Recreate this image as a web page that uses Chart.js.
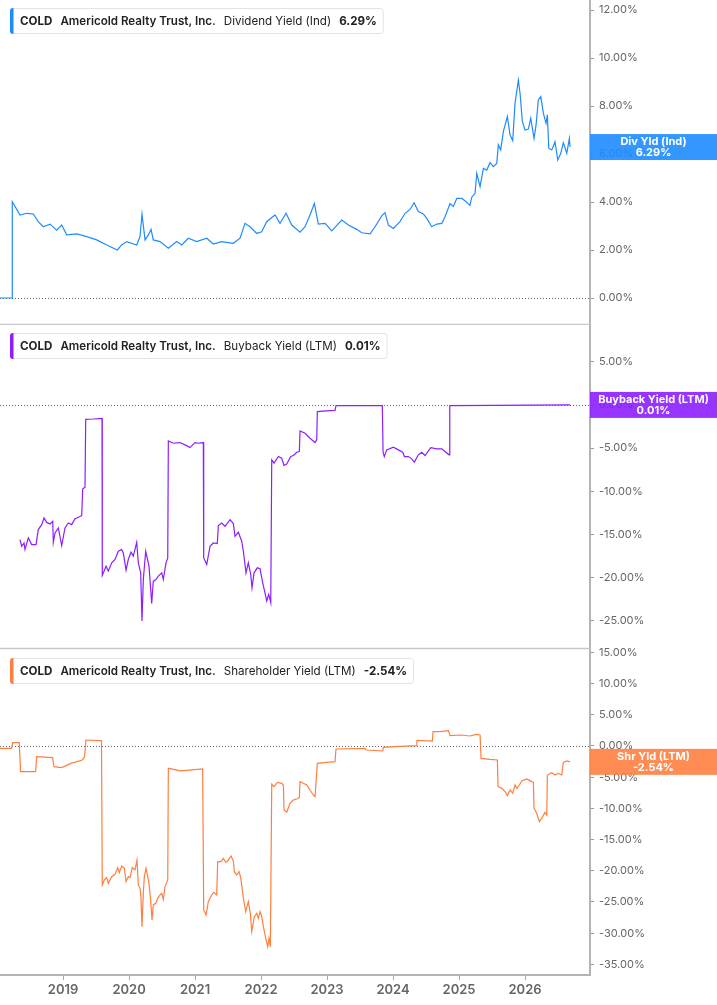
<!DOCTYPE html>
<html>
<head>
<meta charset="utf-8">
<title>COLD yields</title>
<script src="https://cdn.jsdelivr.net/npm/chart.js@4.4.1/dist/chart.umd.min.js"></script>
<style>
  html, body { margin: 0; padding: 0; background: #fff; }
  #wrap { position: relative; width: 717px; height: 1005px; overflow: hidden; }
  canvas { position: absolute; left: 0; }
</style>
</head>
<body>
<div id="wrap">
  <canvas id="divChart" width="717" height="325" style="top:0px"></canvas>
  <canvas id="buyChart" width="717" height="323" style="top:325px"></canvas>
  <canvas id="shrChart" width="717" height="365" style="top:640px"></canvas>
</div>
<script>
// time axis (decimal years)
const xMin = 2018.044;
const xMax = 2026.985;
const yearTicks = [2019, 2020, 2021, 2022, 2023, 2024, 2025, 2026];

const ticker = 'COLD';
const company = 'Americold Realty Trust, Inc.';

// Dividend Yield (Ind), %
const divDates = [2018.044, 2018.226, 2018.230, 2018.347, 2018.449, 2018.549, 2018.624, 2018.700, 2018.802, 2018.903,
  2018.979, 2019.055, 2019.207, 2019.358, 2019.510, 2019.661, 2019.822, 2019.888, 2019.964, 2020.116,
  2020.166, 2020.196, 2020.242, 2020.292, 2020.333, 2020.367, 2020.469, 2020.595, 2020.722, 2020.798,
  2020.898, 2021.025, 2021.177, 2021.277, 2021.404, 2021.580, 2021.681, 2021.757, 2021.833, 2021.935,
  2022.010, 2022.086, 2022.212, 2022.288, 2022.379, 2022.465, 2022.591, 2022.667, 2022.742, 2022.808,
  2022.868, 2022.970, 2023.071, 2023.223, 2023.323, 2023.450, 2023.526, 2023.652, 2023.728, 2023.829,
  2023.879, 2023.929, 2024.005, 2024.106, 2024.182, 2024.258, 2024.319, 2024.384, 2024.460, 2024.511,
  2024.587, 2024.663, 2024.739, 2024.788, 2024.864, 2024.914, 2024.966, 2025.041, 2025.091, 2025.167,
  2025.193, 2025.243, 2025.269, 2025.319, 2025.369, 2025.420, 2025.470, 2025.520, 2025.572, 2025.596,
  2025.632, 2025.672, 2025.733, 2025.774, 2025.814, 2025.849, 2025.899, 2025.925, 2025.960, 2026.001,
  2026.051, 2026.087, 2026.137, 2026.168, 2026.202, 2026.239, 2026.278, 2026.319, 2026.339, 2026.360,
  2026.405, 2026.455, 2026.496, 2026.542, 2026.581, 2026.633, 2026.672, 2026.683];
const divValues = [0, 0, 4.01, 3.46, 3.53, 3.50, 3.18, 2.97, 3.08, 2.83,
  3.04, 2.63, 2.67, 2.56, 2.42, 2.21, 2.00, 2.21, 2.35, 2.21,
  2.56, 3.49, 2.42, 2.63, 2.86, 2.42, 2.35, 2.07, 2.35, 2.21,
  2.49, 2.35, 2.49, 2.25, 2.35, 2.28, 2.49, 3.11, 2.97, 2.69,
  2.76, 3.18, 3.46, 3.11, 3.53, 3.04, 2.74, 2.97, 3.46, 3.94,
  3.08, 3.11, 2.80, 3.25, 3.04, 2.86, 2.72, 2.67, 2.97, 3.42,
  3.56, 3.04, 2.90, 3.18, 3.53, 3.69, 3.97, 3.60, 3.50, 3.32,
  2.97, 3.08, 3.11, 3.39, 3.94, 3.81, 4.15, 4.15, 4.05, 3.86,
  4.20, 4.36, 5.19, 4.64, 5.40, 5.33, 5.64, 5.47, 5.61, 6.38,
  6.17, 6.93, 7.56, 6.79, 6.56, 8.11, 9.08, 8.53, 7.35, 7.00,
  7.04, 7.49, 6.65, 7.21, 8.25, 8.39, 7.70, 7.28, 7.63, 6.24,
  6.17, 6.51, 5.75, 6.03, 6.47, 6.03, 6.65, 6.29];

// Buyback Yield (LTM), %
const buyDates = [2018.347, 2018.373, 2018.408, 2018.423, 2018.473, 2018.524, 2018.590, 2018.624, 2018.676, 2018.711,
  2018.752, 2018.802, 2018.843, 2018.852, 2018.878, 2018.928, 2018.979, 2019.029, 2019.079, 2019.131,
  2019.181, 2019.282, 2019.297, 2019.332, 2019.343, 2019.458, 2019.590, 2019.594, 2019.651, 2019.685,
  2019.737, 2019.787, 2019.837, 2019.888, 2019.913, 2019.954, 2019.988, 2020.029, 2020.064, 2020.116,
  2020.140, 2020.176, 2020.196, 2020.216, 2020.252, 2020.302, 2020.343, 2020.367, 2020.408, 2020.443,
  2020.495, 2020.519, 2020.560, 2020.586, 2020.595, 2020.671, 2020.772, 2020.848, 2020.924, 2020.999,
  2021.049, 2021.125, 2021.131, 2021.177, 2021.227, 2021.277, 2021.337, 2021.353, 2021.404, 2021.454,
  2021.530, 2021.580, 2021.606, 2021.656, 2021.707, 2021.732, 2021.772, 2021.807, 2021.844, 2021.863,
  2021.894, 2021.944, 2021.985, 2022.025, 2022.060, 2022.086, 2022.116, 2022.147, 2022.162, 2022.197,
  2022.262, 2022.313, 2022.348, 2022.389, 2022.450, 2022.489, 2022.541, 2022.580, 2022.591, 2022.667,
  2022.742, 2022.818, 2022.844, 2022.853, 2022.995, 2023.121, 2023.136, 2023.838, 2023.849, 2023.868,
  2023.905, 2024.005, 2024.081, 2024.147, 2024.172, 2024.232, 2024.284, 2024.323, 2024.384, 2024.435,
  2024.485, 2024.572, 2024.663, 2024.739, 2024.788, 2024.849, 2024.860, 2025.520, 2026.683];
const buyValues = [-15.59, -16.36, -15.98, -16.74, -15.40, -16.17, -16.17, -14.43, -13.86, -13.09,
  -13.60, -13.78, -13.47, -15.90, -14.82, -14.24, -16.28, -14.24, -13.67, -13.86,
  -13.17, -12.82, -9.74, -9.51, -1.66, -1.62, -1.54, -19.74, -18.67, -19.24,
  -18.28, -17.90, -16.94, -16.74, -17.13, -19.13, -17.90, -17.05, -17.51, -15.90,
  -18.28, -19.44, -25.02, -20.21, -16.94, -18.67, -22.98, -20.40, -20.21, -19.82,
  -19.44, -20.21, -18.28, -17.71, -4.16, -4.43, -4.35, -4.62, -4.93, -4.35,
  -4.43, -4.35, -17.71, -18.47, -16.36, -15.98, -16.05, -13.97, -13.67, -14.05,
  -13.28, -13.74, -15.21, -14.74, -15.78, -16.94, -19.44, -18.28, -19.63, -21.17,
  -19.44, -18.86, -18.97, -20.60, -21.75, -22.70, -21.94, -22.90, -6.35, -6.74,
  -5.97, -6.16, -7.00, -6.85, -5.97, -5.85, -5.47, -5.39, -3.00, -3.27,
  -3.85, -4.35, -4.04, -0.77, -0.69, -0.62, -0.08, -0.08, -5.47, -5.97,
  -5.20, -4.89, -5.20, -5.47, -5.97, -5.97, -6.24, -6.62, -5.77, -5.47,
  -5.85, -4.93, -5.08, -5.08, -5.39, -5.77, -0.08, -0.05, 0.01];

// Shareholder Yield (LTM), %
const shrDates = [2018.044, 2018.217, 2018.238, 2018.335, 2018.356, 2018.585, 2018.599, 2018.841, 2018.862, 2018.979,
  2019.119, 2019.291, 2019.326, 2019.347, 2019.582, 2019.594, 2019.625, 2019.661, 2019.685, 2019.737,
  2019.787, 2019.828, 2019.852, 2019.888, 2019.928, 2019.954, 2019.988, 2020.014, 2020.049, 2020.090,
  2020.120, 2020.140, 2020.166, 2020.181, 2020.196, 2020.216, 2020.231, 2020.257, 2020.283, 2020.302,
  2020.328, 2020.348, 2020.367, 2020.404, 2020.434, 2020.469, 2020.495, 2020.519, 2020.545, 2020.586,
  2020.595, 2020.781, 2020.954, 2021.115, 2021.131, 2021.166, 2021.201, 2021.253, 2021.283, 2021.328,
  2021.343, 2021.393, 2021.428, 2021.465, 2021.504, 2021.545, 2021.580, 2021.595, 2021.631, 2021.666,
  2021.692, 2021.732, 2021.768, 2021.807, 2021.838, 2021.859, 2021.898, 2021.935, 2021.959, 2021.985,
  2022.010, 2022.035, 2022.071, 2022.101, 2022.121, 2022.141, 2022.162, 2022.197, 2022.247, 2022.313,
  2022.338, 2022.348, 2022.389, 2022.439, 2022.489, 2022.541, 2022.580, 2022.591, 2022.641, 2022.692,
  2022.742, 2022.792, 2022.818, 2022.853, 2022.995, 2023.121, 2023.136, 2023.576, 2023.591, 2023.844,
  2023.853, 2024.106, 2024.360, 2024.364, 2024.596, 2024.607, 2024.713, 2024.839, 2024.864, 2025.016,
  2025.167, 2025.258, 2025.319, 2025.334, 2025.470, 2025.581, 2025.592, 2025.648, 2025.698, 2025.733,
  2025.774, 2025.814, 2025.849, 2025.875, 2025.915, 2025.951, 2026.027, 2026.103, 2026.127, 2026.137,
  2026.178, 2026.217, 2026.254, 2026.304, 2026.330, 2026.339, 2026.405, 2026.455, 2026.505, 2026.557,
  2026.581, 2026.633, 2026.683];
const shrValues = [-0.37, -0.37, 0.53, 0.53, -4.11, -4.11, -1.71, -1.87, -3.31, -3.47,
  -2.78, -2.24, -1.71, 0.96, 0.85, -22.28, -21.47, -21.10, -22.00, -20.94,
  -20.57, -19.50, -20.25, -19.23, -19.60, -21.74, -20.94, -21.10, -19.50, -19.87,
  -18.27, -22.28, -22.81, -24.41, -28.95, -23.61, -20.94, -19.60, -20.94, -22.00,
  -24.94, -27.88, -25.47, -25.21, -24.41, -23.88, -23.61, -24.57, -22.54, -21.47,
  -3.58, -4.00, -3.84, -3.68, -26.28, -27.08, -24.94, -23.88, -23.45, -23.88,
  -18.54, -18.54, -18.00, -18.65, -18.27, -17.63, -18.43, -20.14, -20.67, -20.14,
  -21.10, -24.41, -26.55, -24.94, -26.81, -29.75, -27.35, -26.81, -27.62, -26.55,
  -27.35, -28.95, -30.82, -32.16, -30.82, -32.16, -6.14, -6.52, -5.82, -5.98,
  -6.25, -10.26, -10.63, -9.19, -8.65, -8.49, -8.28, -5.71, -5.98, -6.25,
  -7.05, -7.85, -8.12, -2.78, -2.62, -2.51, -0.48, -0.37, -0.64, -0.80,
  -0.21, -0.05, 0.05, 0.91, 0.80, 2.29, 2.29, 2.45, 1.65, 1.76,
  1.60, 1.87, 1.76, -1.98, -2.14, -2.24, -6.52, -6.79, -7.32, -7.96,
  -7.05, -7.58, -6.25, -6.79, -6.25, -5.61, -5.29, -5.71, -5.82, -9.99,
  -10.79, -12.13, -11.59, -10.63, -11.06, -4.65, -4.27, -4.65, -4.38, -4.65,
  -2.62, -2.40, -2.54];

const pct = v => v.toFixed(2) + '%';

function toPoints(dates, values) {
  return dates.map((d, i) => ({ x: d, y: values[i] }));
}

// zero line, separator, legend box and last-value badge
function panelPlugin(cfg) {
  return {
    id: 'panelDecor',
    beforeDatasetsDraw(chart) {
      const { ctx, chartArea: a } = chart;
      const py = Math.round(chart.scales.y.getPixelForValue(0)) + 0.5;
      ctx.save();
      ctx.strokeStyle = '#666';
      ctx.lineWidth = 1;
      ctx.setLineDash([1, 2]);
      ctx.beginPath();
      ctx.moveTo(a.left, py);
      ctx.lineTo(a.right, py);
      ctx.stroke();
      ctx.restore();
    },
    afterDraw(chart) {
      const { ctx, chartArea: a } = chart;
      ctx.save();

      // panel separator
      if (cfg.sepY !== undefined) {
        ctx.strokeStyle = '#c6c6c6';
        ctx.lineWidth = 1.5;
        ctx.beginPath();
        ctx.moveTo(a.left, cfg.sepY);
        ctx.lineTo(a.right, cfg.sepY);
        ctx.stroke();
      }

      // legend box
      const fs = 11.6;
      const parts = [
        { t: ticker, w: 700 },
        { t: company, w: 600 },
        { t: cfg.metric, w: 400 },
        { t: cfg.valueText, w: 700 }
      ];
      const boxLeft = 10, boxTop = a.top + cfg.boxTop, boxH = 25;
      let tx = 20;
      const pos = [];
      parts.forEach(p => {
        ctx.font = p.w + ' ' + fs + 'px Inter';
        pos.push(tx);
        tx += ctx.measureText(p.t).width + 8;
      });
      const boxW = tx - 8 + 6 - boxLeft;
      ctx.fillStyle = '#fff';
      ctx.strokeStyle = '#e3e3e3';
      ctx.lineWidth = 1;
      ctx.beginPath();
      ctx.roundRect(boxLeft + 0.5, boxTop + 0.5, boxW, boxH, 3);
      ctx.fill();
      ctx.stroke();
      ctx.fillStyle = cfg.color;
      ctx.beginPath();
      ctx.roundRect(boxLeft, boxTop, 3.5, boxH + 1, [3, 0, 0, 3]);
      ctx.fill();
      ctx.fillStyle = '#222';
      ctx.textBaseline = 'alphabetic';
      ctx.textAlign = 'left';
      parts.forEach((p, i) => {
        ctx.font = p.w + ' ' + fs + 'px Inter';
        ctx.fillText(p.t, pos[i], boxTop + 17);
      });

      // last value badge on the axis
      const cy = chart.scales.y.getPixelForValue(cfg.last);
      ctx.globalAlpha = 0.9;
      ctx.fillStyle = cfg.badge;
      ctx.fillRect(a.right, cy - 13, chart.width - a.right, 26);
      ctx.globalAlpha = 1;
      ctx.fillStyle = '#fff';
      ctx.font = '700 11px Inter';
      ctx.textAlign = 'center';
      ctx.textBaseline = 'middle';
      const cx = (a.right + chart.width) / 2;
      ctx.fillText(cfg.badgeLabel, cx, cy - 5.5);
      ctx.fillText(pct(cfg.last), cx, cy + 5.5);
      ctx.restore();
    }
  };
}

function yAxis(min, max, step) {
  return {
    position: 'right',
    min: min,
    max: max,
    ticks: {
      stepSize: step,
      includeBounds: false,
      color: '#666',
      font: { family: 'Inter', size: 11 },
      padding: 5,
      callback: v => pct(v)
    },
    grid: { drawOnChartArea: false, tickLength: 4, tickColor: '#999', tickWidth: 1 },
    border: { color: '#b4b4b4', width: 2 },
    afterFit(s) { s.width = 127; s.paddingTop = 0; s.paddingBottom = 0; }
  };
}

function xAxis(show) {
  return {
    type: 'linear',
    min: xMin,
    max: xMax,
    display: show,
    afterBuildTicks(s) { s.ticks = yearTicks.map(v => ({ value: v })); },
    ticks: {
      autoSkip: false,
      maxRotation: 0,
      color: '#666',
      font: { family: 'Inter', size: 13, weight: '600' },
      padding: 2,
      callback: v => String(v)
    },
    grid: { drawOnChartArea: false, tickLength: 5, tickColor: '#aaa' },
    border: { color: '#b4b4b4', width: 2 },
    afterFit(s) {
      s.height = show ? 30 : 0;
      s.paddingLeft = 0;
      s.paddingRight = 0;
    }
  };
}

function makeChart(id, dates, values, color, y, cfg, showX, padTop) {
  new Chart(document.getElementById(id), {
    type: 'line',
    data: {
      datasets: [{
        data: toPoints(dates, values),
        borderColor: color,
        borderWidth: 1.2,
        pointRadius: 0,
        tension: 0,
        fill: false
      }]
    },
    options: {
      responsive: false,
      animation: false,
      layout: { padding: { top: padTop, left: 0, right: 0, bottom: 0 } },
      plugins: { legend: { display: false }, tooltip: { enabled: false } },
      scales: { x: xAxis(showX), y: y }
    },
    plugins: [panelPlugin(Object.assign({ color: color }, cfg))]
  });
}

makeChart('divChart', divDates, divValues, '#1e8cff', yAxis(-1.125, 12.417, 2), {
  metric: 'Dividend Yield (Ind)', valueText: '6.29%', badge: '#1e8cff',
  badgeLabel: 'Div Yld (Ind)', last: 6.29, boxTop: 8, sepY: 324.5
}, false, 0);

makeChart('buyChart', buyDates, buyValues, '#8c1eff', yAxis(-28.147, 9.267, 5), {
  metric: 'Buyback Yield (LTM)', valueText: '0.01%', badge: '#8c1eff',
  badgeLabel: 'Buyback Yield (LTM)', last: 0.01, boxTop: 8
}, false, 0);

makeChart('shrChart', shrDates, shrValues, '#ff7f3f', yAxis(-36.7, 15.705, 5), {
  metric: 'Shareholder Yield (LTM)', valueText: '-2.54%', badge: '#ff7f3f',
  badgeLabel: 'Shr Yld (LTM)', last: -2.54, boxTop: 10, sepY: 8.5
}, true, 8);
</script>
</body>
</html>
